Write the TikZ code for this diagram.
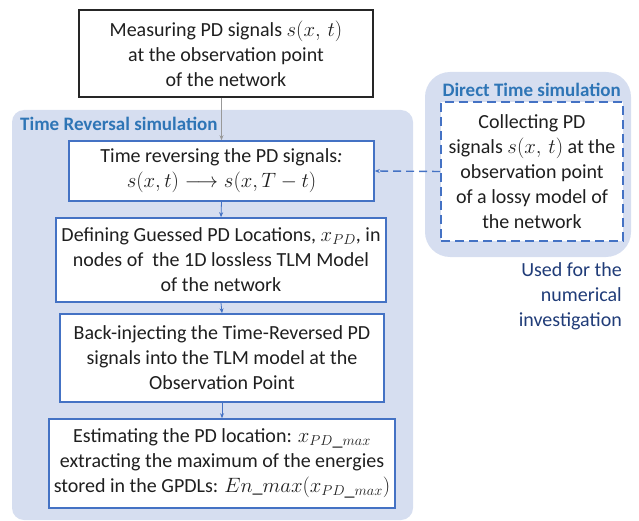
\documentclass[tikz,border=0pt]{standalone}
\usepackage{fontspec}
\setmainfont{Carlito}
\usetikzlibrary{arrows.meta}
\definecolor{bord}{HTML}{4472C4}
\definecolor{panelbg}{HTML}{D6DEF0}
\definecolor{lbl}{HTML}{2E75B6}
\definecolor{navy}{HTML}{203C78}
\begin{document}
\begin{tikzpicture}[x=1pt,y=-1pt]
\tikzset{
  box/.style={draw=bord, line width=1.6pt, fill=white, align=center, inner sep=0pt,
    font=\fontsize{20}{25}\selectfont, text=black!88},
  panel/.style={fill=panelbg, rounded corners=12pt, inner sep=0pt},
  paneltitle/.style={font=\fontsize{19}{23}\selectfont\bfseries, text=lbl, inner sep=0pt},
  flow/.style={draw=bord, line width=0.8pt, -{Stealth[length=5pt,width=4pt]}},
  feed/.style={draw=gray!80, line width=1pt, -{Stealth[length=5pt,width=4pt]}},
  dashflow/.style={draw=bord, line width=1.4pt, dash pattern=on 8pt off 5pt, -{Stealth[length=5pt,width=4pt]}},
}
\useasboundingbox (0,0) rectangle (639,521);

% panels
\node[panel, minimum width=401pt, minimum height=410pt] (tr) at (212.5,315) {};
\node[paneltitle, anchor=base west] (trl) at (20,131) {Time Reversal simulation};
\node[panel, rounded corners=25pt, minimum width=206pt, minimum height=185pt] (dt) at (528,164.5) {};
\node[paneltitle, anchor=base east] (dtl) at (621,97) {Direct Time simulation};

% boxes
\node[box, draw=black!85, minimum width=294pt, minimum height=87pt] (m) at (226,53.5)
  {Measuring PD signals $s(x,\,t)$\\ at the observation point\\ of the network};
\node[box, minimum width=305pt, minimum height=60pt] (b2) at (221.5,171)
  {Time reversing the PD signals\textit{:}\\ $s(x,t)\longrightarrow s(x,T-t)$};
\node[box, minimum width=330pt, minimum height=84pt] (b3) at (221,260)
  {Defining Guessed PD Locations, $x_{PD}$, in\\ nodes of\ \ the 1D lossless TLM Model\\ of the network};
\node[box, minimum width=324pt, minimum height=88pt] (b4) at (222,358)
  {Back-injecting the Time-Reversed PD\\ signals into the TLM model at the\\ Observation Point};
\node[box, minimum width=346pt, minimum height=89pt] (b5) at (222,463.5)
  {Estimating the PD location: $x_{PD\_max}$\\ extracting the maximum of the energies\\ stored in the GPDLs: $En\_max(x_{PD\_max})$};
\node[box, dash pattern=on 9pt off 5pt, line width=1.8pt, minimum width=182pt, minimum height=139pt] (c) at (532,171.5)
  {Collecting PD\\ signals $s(x,\,t)$ at the\\ observation point\\ of a lossy model of\\ the network};

\node[anchor=north east, align=right, inner sep=0pt, text=navy, font=\fontsize{20}{25}\selectfont] (note) at (622,262)
  {Used for the\\ numerical\\ investigation};

% connectors
\draw[feed] (b2.north |- m.south) -- (b2.north);
\draw[flow] (b2.south) -- (b3.north);
\draw[flow] (b3.south) -- (b4.north);
\draw[flow] (b4.south) -- (b5.north);
\draw[dashflow] (c.west) -- (b2.east);
\end{tikzpicture}
\end{document}
